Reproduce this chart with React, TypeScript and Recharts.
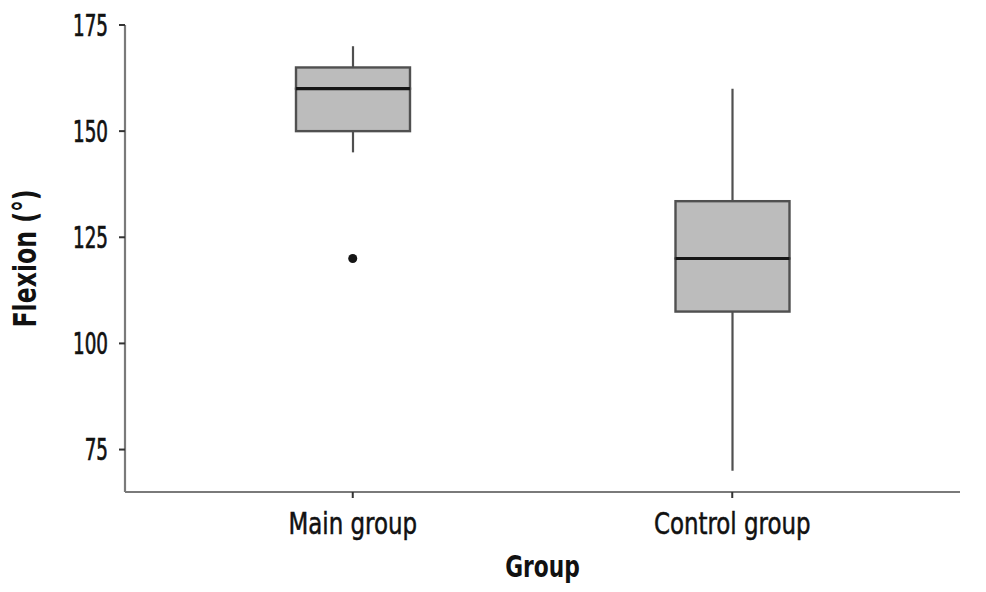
import React from 'react';
import { ComposedChart, Bar, XAxis, YAxis, Scatter, Label } from 'recharts';

const groups = ['Main group', 'Control group'];
const whiskerLow = [145, 70];
const q1 = [150, 107.5];
const median = [160, 120];
const q3 = [165, 133.5];
const whiskerHigh = [170, 160];
const outliers: (number | null)[] = [120, null];
const yTicks = [75, 100, 125, 150, 175];

const data = groups.map((g, i) => ({
  group: g,
  whisker: [whiskerLow[i], whiskerHigh[i]],
  lower: [q1[i], median[i]],
  upper: [median[i], q3[i]],
  outlier: outliers[i],
}));

const FONT = "'DejaVu Sans Condensed', 'DejaVu Sans', sans-serif";
const BOX_FILL = '#bcbcbc';
const BOX_STROKE = '#505050';
const BOX_W = 114;

const norm = (p: any) => {
  const y0 = Math.min(p.y, p.y + p.height);
  const h = Math.abs(p.height);
  return { x: p.x, y: y0, w: p.width, h };
};

const WhiskerShape = (p: any) => {
  const { x, y, w, h } = norm(p);
  const cx = x + w / 2;
  return <line x1={cx} x2={cx} y1={y} y2={y + h} stroke={BOX_STROKE} strokeWidth={2.2} />;
};

const LowerShape = (p: any) => {
  const { x, y, w, h } = norm(p);
  return <rect x={x} y={y} width={w} height={h} fill={BOX_FILL} stroke={BOX_STROKE} strokeWidth={2.4} />;
};

const UpperShape = (p: any) => {
  const { x, y, w, h } = norm(p);
  return (
    <g>
      <rect x={x} y={y} width={w} height={h} fill={BOX_FILL} stroke={BOX_STROKE} strokeWidth={2.4} />
      <line x1={x} x2={x + w} y1={y + h} y2={y + h} stroke="#161616" strokeWidth={3.2} />
    </g>
  );
};

const OutlierShape = (p: any) =>
  p.payload && p.payload.outlier != null ? <circle cx={p.cx} cy={p.cy} r={4.5} fill="#151515" /> : <g />;

const squeeze = (x: number, y: number, s: number) => `translate(${x},${y}) scale(${s},1) translate(${-x},${-y})`;

const XTick = (p: any) => (
  <text
    x={p.x}
    y={p.y}
    dy="0.71em"
    textAnchor="middle"
    fill="#111"
    stroke="#111"
    strokeWidth={0.5}
    fontSize={30}
    fontFamily={FONT}
    transform={squeeze(p.x, p.y, 0.85)}
  >
    {p.payload.value}
  </text>
);

const YTick = (p: any) => (
  <text
    x={p.x}
    y={p.y}
    dy="0.36em"
    textAnchor="end"
    fill="#111"
    stroke="#111"
    strokeWidth={0.7}
    fontSize={30}
    fontFamily={FONT}
    transform={squeeze(p.x, p.y, 0.68)}
  >
    {p.payload.value}
  </text>
);

const XTitle = (p: any) => {
  const vb = p.viewBox;
  const cx = vb.x + vb.width / 2;
  const by = vb.y + vb.height - 15;
  return (
    <text x={cx} y={by} textAnchor="middle" fill="#111" fontSize={31} fontWeight="bold" fontFamily={FONT}
      transform={squeeze(cx, by, 0.78)}>
      Group
    </text>
  );
};

const YTitle = (p: any) => {
  const vb = p.viewBox;
  const cy = vb.y + vb.height / 2;
  const cx = 36;
  return (
    <text x={cx} y={cy} textAnchor="middle" fill="#111" fontSize={32} fontWeight="bold" fontFamily={FONT}
      transform={`rotate(-90,${cx},${cy}) ${squeeze(cx, cy, 0.82)}`}>
      Flexion (°)
    </text>
  );
};

export default function App() {
  return (
    <div style={{ position: 'absolute', left: 0, top: 0, background: '#fff' }}>
      <ComposedChart
        width={986}
        height={592}
        data={data}
        margin={{ top: 25, right: 26, bottom: 0, left: 0 }}
        barSize={BOX_W}
        barGap={-BOX_W}
      >
        <XAxis
          dataKey="group"
          type="category"
          padding={{ left: 38, right: 38 }}
          height={100}
          axisLine={{ stroke: '#7a7a7a', strokeWidth: 2.2 }}
          tickLine={{ stroke: '#333', strokeWidth: 2 }}
          tickSize={6}
          tickMargin={15}
          tick={XTick}
        >
          <Label content={XTitle} />
        </XAxis>
        <YAxis
          type="number"
          domain={[65, 175]}
          ticks={yTicks}
          allowDataOverflow
          width={125}
          axisLine={{ stroke: '#7a7a7a', strokeWidth: 2.2 }}
          tickLine={{ stroke: '#333', strokeWidth: 2 }}
          tickSize={6}
          tickMargin={11}
          tick={YTick}
        >
          <Label content={YTitle} />
        </YAxis>
        <Bar dataKey="whisker" shape={WhiskerShape} isAnimationActive={false} />
        <Bar dataKey="lower" shape={LowerShape} isAnimationActive={false} />
        <Bar dataKey="upper" shape={UpperShape} isAnimationActive={false} />
        <Scatter dataKey="outlier" shape={OutlierShape} isAnimationActive={false} />
      </ComposedChart>
    </div>
  );
}
